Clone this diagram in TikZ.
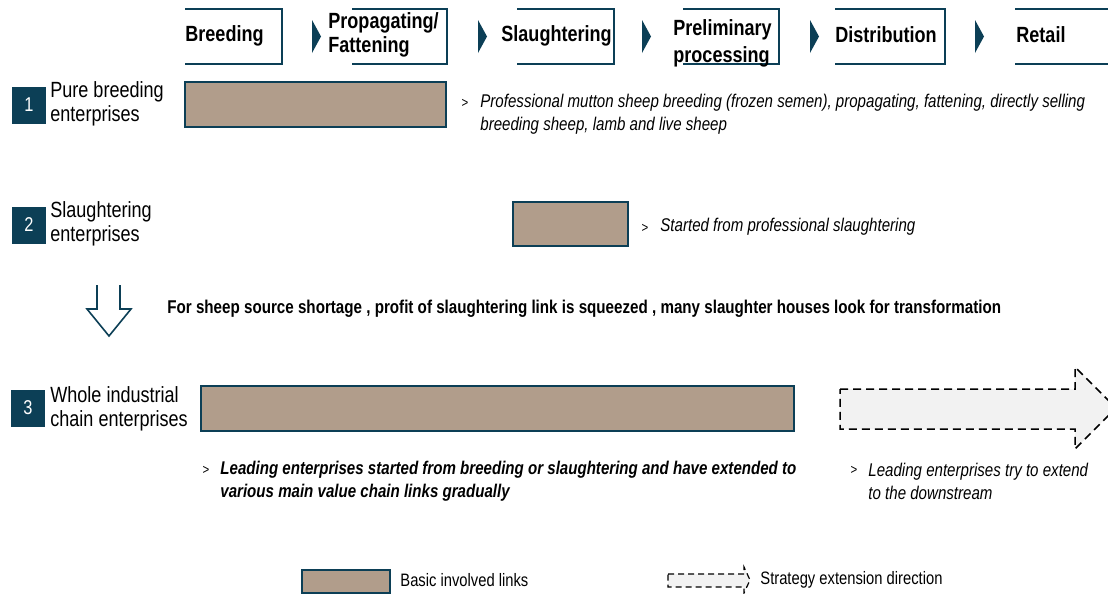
\documentclass[tikz,border=0pt]{standalone}
\usepackage{fontspec}
\setmainfont{Liberation Sans}[FakeStretch=0.82]
\usetikzlibrary{positioning}
\definecolor{chainblue}{HTML}{0C3F56}
\definecolor{linkbrown}{HTML}{B19D8B}
\definecolor{extgray}{HTML}{F2F2F2}
\tikzset{
  stagetext/.style={font=\fontsize{11}{12}\selectfont\bfseries,inner sep=0,anchor=west,align=left},
  stageframe/.style={draw=chainblue,line width=0.8pt},
  chevron/.style={fill=chainblue},
  badge/.style={fill=chainblue,text=white,minimum width=17pt,minimum height=18.5pt,inner sep=0,font=\fontsize{10}{12}\selectfont},
  firmtext/.style={font=\fontsize{11}{12}\selectfont,inner sep=0,anchor=west,align=left},
  linkbar/.style={draw=chainblue,fill=linkbrown,line width=0.8pt},
  notetext/.style={font=\fontsize{9.2}{11.5}\selectfont\itshape,inner sep=0,anchor=west,align=left},
  boldnote/.style={notetext,font=\fontsize{9.2}{11.5}\selectfont\itshape\bfseries},
  gtmark/.style={font=\fontsize{7}{8}\selectfont,inner sep=0},
  extarrow/.style={draw=black,dash pattern=on 4pt off 2.5pt,fill=extgray,line width=0.75pt},
}
\begin{document}
\begin{tikzpicture}[x=0.5pt,y=-0.5pt]
\useasboundingbox (0,0) rectangle (1108,594);

%value chain stages
\draw[stageframe](185,9)--(282,9)--(282,64)--(185,64);
\draw[stageframe](352,9)--(447,9)--(447,64)--(352,64);
\draw[stageframe](517,9)--(614,9)--(614,64)--(517,64);
\draw[stageframe](683,9)--(779,9)--(779,64)--(683,64);
\draw[stageframe](835,9)--(945,9)--(945,64)--(835,64);
\draw[stageframe](1015,9)--(1112,9)--(1112,64)--(1015,64);
\node[stagetext](breeding)at(185,36){Breeding};
\node[stagetext](fattening)at(328,35){Propagating/\\Fattening};
\node[stagetext,font=\fontsize{11}{13.5}\selectfont\bfseries](processing)at(673,43){Preliminary\\processing};
\node[stagetext](slaughter)at(501,36){Slaughtering};
\node[stagetext](distribution)at(835,35){Distribution};
\node[stagetext](retail)at(1016,35){Retail};
%chevrons
\foreach \cx in {312,478,642,810,975}
  \fill[chevron](\cx,20)--(\cx+9,36.5)--(\cx,53)--cycle;

%type 1
\node[badge](badge1)at(29,105){1};
\node[firmtext](firm1)at(50,104){Pure breeding\\enterprises};
\draw[linkbar](185,82)rectangle(446,127);
\node[gtmark](gt1)at(465,103){>};
\node[notetext](note1)at(480,114){Professional mutton sheep breeding (frozen semen), propagating, fattening, directly selling\\breeding sheep, lamb and live sheep};

%type 2
\node[badge](badge2)at(29,225){2};
\node[firmtext](firm2)at(50,224){Slaughtering\\enterprises};
\draw[linkbar](513,202)rectangle(628,246);
\node[gtmark](gt2)at(645,228){>};
\node[notetext](note2)at(660,227){Started from professional slaughtering};

%transformation
\draw[draw=chainblue,line width=0.8pt](97,285)--(97,309)--(87,309)--(109,336)--(131,309)--(120,309)--(120,285);
\node[boldnote,font=\fontsize{9.25}{11}\selectfont\bfseries](shift)at(167,309){For sheep source shortage , profit of slaughtering link is squeezed , many slaughter houses look for transformation};

%type 3
\node[badge](badge3)at(28,408){3};
\node[firmtext](firm3)at(50,409){Whole industrial\\chain enterprises};
\draw[linkbar](201,386)rectangle(794,431);
\draw[extarrow](840,389)--(1075,389)--(1075,367)--(1116,408)--(1075,449)--(1075,429)--(840,429)--cycle;
\node[gtmark](gt3)at(206,470){>};
\node[boldnote](note3)at(220,481){Leading enterprises started from breeding or slaughtering and have extended to\\various main value chain links gradually};
\node[gtmark](gt4)at(854,470){>};
\node[notetext](note4)at(868,481){Leading enterprises try to extend\\to the downstream};

%legend
\draw[linkbar](302,570)rectangle(390,593);
\node[firmtext,font=\fontsize{9}{11}\selectfont](legend1)at(400,580){Basic involved links};
\draw[extarrow,dash pattern=on 3pt off 2pt,line width=0.6pt](668,574)--(744,574)--(744,567)--(750,580)--(744,593)--(744,587)--(668,587)--cycle;
\node[firmtext,font=\fontsize{9}{11}\selectfont](legend2)at(760,580){Strategy extension direction};

\end{tikzpicture}
\end{document}
